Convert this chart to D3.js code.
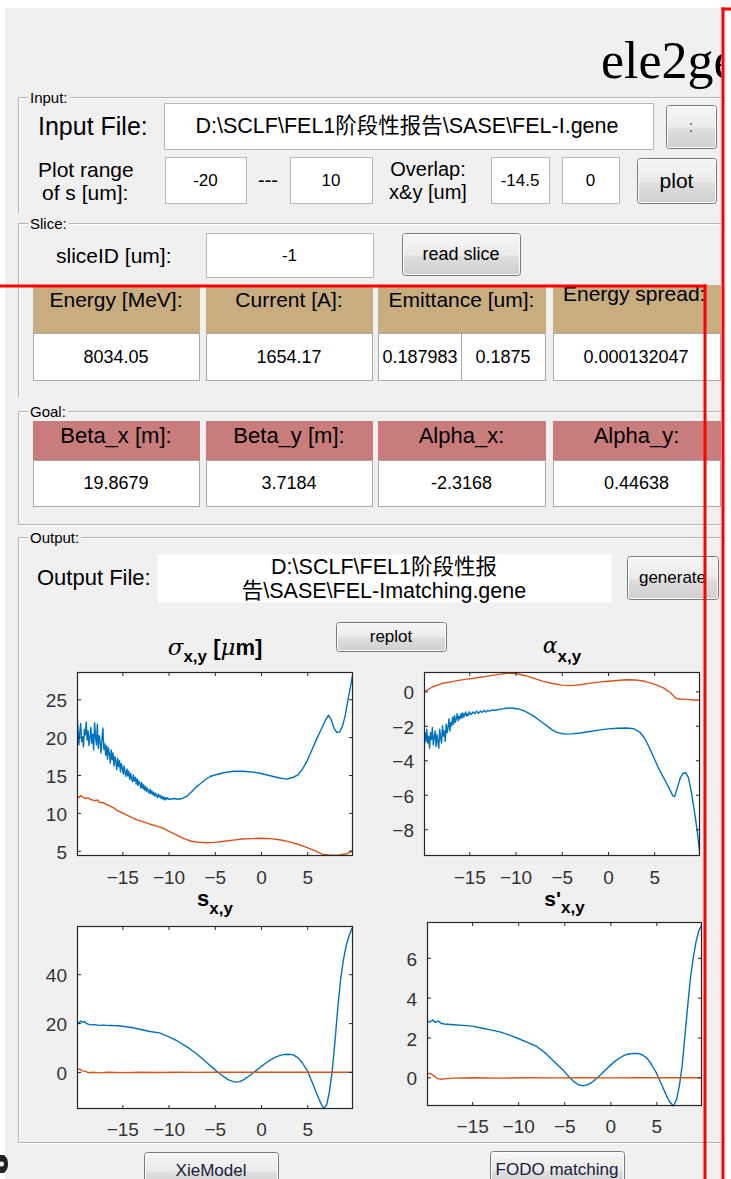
<!DOCTYPE html>
<html><head><meta charset="utf-8">
<script src="https://cdn.jsdelivr.net/npm/d3@7/dist/d3.min.js"></script>
<style>body{margin:0;background:#fff;}svg{display:block;}</style>
</head><body>
<script>
// ---------------- DATA ----------------
const xTicks = [-15, -10, -5, 0, 5];
const sigmaTicks = [5, 10, 15, 20, 25];
const alphaTicks = [-8, -6, -4, -2, 0];
const sTicks = [0, 20, 40];
const spTicks = [0, 2, 4, 6];
const sRange = [-19.9, 9.95];

const inputPath = "D:\\SCLF\\FEL1阶段性报告\\SASE\\FEL-I.gene";
const outputPathLines = ["D:\\SCLF\\FEL1阶段性报", "告\\SASE\\FEL-Imatching.gene"];
const plotRange = ["-20", "10"];
const overlap = ["-14.5", "0"];
const sliceId = "-1";
const sliceHeaders = ["Energy [MeV]:", "Current [A]:", "Emittance [um]:", "Energy spread:"];
const sliceValues = ["8034.05", "1654.17", "0.187983", "0.1875", "0.000132047"];
const goalHeaders = ["Beta_x [m]:", "Beta_y [m]:", "Alpha_x:", "Alpha_y:"];
const goalValues = ["19.8679", "3.7184", "-2.3168", "0.44638"];

// sigma_x (blue) and sigma_y (orange) [um]
const sigmaX = [[-19.9,22.9],[-19.8,21.2],[-19.7,19.0],[-19.6,20.6],[-19.5,21.8],[-19.4,19.4],[-19.3,20.1],[-19.2,18.7],[-19.1,21.0],[-19.0,20.3],
 [-18.9,22.0],[-18.8,19.6],[-18.7,20.8],[-18.6,18.9],[-18.5,19.9],[-18.4,21.3],[-18.3,19.2],[-18.2,20.4],[-18.1,18.3],[-18.0,21.9],
 [-17.9,20.1],[-17.8,19.0],[-17.7,21.7],[-17.6,18.5],[-17.5,20.2],[-17.4,19.3],[-17.3,17.9],[-17.2,19.8],[-17.1,21.2],[-17.0,18.4],
 [-16.9,19.1],[-16.8,17.6],[-16.7,18.9],[-16.6,17.1],[-16.5,18.6],[-16.4,17.8],[-16.3,16.6],[-16.2,18.3],[-16.1,17.0],[-16.0,17.9],
 [-15.9,16.2],[-15.8,17.4],[-15.7,16.8],[-15.6,15.7],[-15.5,17.2],[-15.4,16.1],[-15.3,16.9],[-15.2,15.4],[-15.1,16.5],[-15.0,15.9],
 [-14.9,15.1],[-14.8,16.2],[-14.7,15.3],[-14.6,14.8],[-14.5,15.8],[-14.4,14.9],[-14.3,15.5],[-14.2,14.4],[-14.1,15.2],[-14.0,14.6],
 [-13.9,14.1],[-13.8,15.0],[-13.7,14.2],[-13.6,14.7],[-13.5,13.8],[-13.4,14.5],[-13.3,13.6],[-13.2,14.2],[-13.1,13.9],[-13.0,13.3],
 [-12.9,14.0],[-12.8,13.2],[-12.7,13.7],[-12.6,13.0],[-12.5,13.5],[-12.4,12.8],[-12.3,13.3],[-12.2,12.9],[-12.1,12.6],[-12.0,13.1],
 [-11.9,12.5],[-11.8,12.9],[-11.7,12.4],[-11.6,12.7],[-11.5,12.2],[-11.4,12.6],[-11.3,12.3],[-11.2,12.0],[-11.1,12.5],[-11.0,12.1],
 [-10.9,12.3],[-10.8,11.9],[-10.7,12.2],[-10.6,11.8],[-10.5,12.1],[-10.4,11.7],[-10.3,12.0],[-10.2,11.8],[-10.1,12.0],[-10.0,11.8],
 [-9.8,11.8],[-9.4,11.9],[-9.0,11.8],[-8.5,11.9],[-8.0,12.2],[-7.5,12.8],[-7.0,13.4],[-6.5,13.9],[-6.0,14.4],[-5.5,14.8],[-5.0,15.0],
 [-4.0,15.3],[-3.0,15.5],[-2.0,15.5],[-1.0,15.4],[0.0,15.2],[1.0,14.9],[2.0,14.6],[2.8,14.45],[3.5,14.7],[4.0,15.0],[4.5,15.8],
 [5.0,16.9],[5.5,18.3],[6.0,19.7],[6.5,21.0],[7.0,22.3],[7.3,22.9],[7.6,22.3],[7.9,21.2],[8.2,20.6],[8.5,20.7],[8.8,21.4],[9.1,22.8],
 [9.4,24.9],[9.7,26.8],[9.95,28.5]];
const sigmaY = [[-19.9,12.3],[-19.7,12.0],[-19.5,12.3],[-19.3,12.1],[-19.0,11.9],[-18.7,12.0],[-18.5,11.8],[-18.2,11.7],[-18.0,11.6],[-17.7,11.7],[-17.5,11.4],[-17.0,11.3],[-16.5,11.0],[-16.0,10.7],
 [-15.5,10.3],[-15.0,10.0],[-14.5,9.7],[-14.0,9.4],[-13.5,9.1],[-13.0,8.9],[-12.5,8.7],[-12.0,8.5],[-11.5,8.35],[-11.0,8.15],[-10.5,7.9],
 [-10.0,7.6],[-9.5,7.3],[-9.0,7.0],[-8.5,6.7],[-8.0,6.45],[-7.5,6.25],[-7.0,6.15],[-6.5,6.1],[-6.0,6.05],[-5.0,6.1],[-4.0,6.25],[-3.0,6.4],
 [-2.0,6.55],[-1.0,6.6],[0.0,6.65],[1.0,6.6],[2.0,6.45],[3.0,6.2],[4.0,5.85],[5.0,5.4],[6.0,4.9],[6.7,4.5],[7.5,4.4],[8.5,4.45],
 [9.3,4.6],[9.7,4.85],[9.95,5.1]];

// alpha_x (blue) and alpha_y (orange)
const alphaX = [[-19.9,-3.8],[-19.8,-2.4],[-19.7,-2.9],[-19.6,-2.2],[-19.5,-3.0],[-19.4,-2.6],[-19.3,-3.3],[-19.2,-2.4],[-19.1,-2.8],[-19.0,-2.1],
 [-18.9,-3.1],[-18.8,-2.7],[-18.7,-2.3],[-18.6,-3.2],[-18.5,-2.5],[-18.4,-2.9],[-18.3,-3.3],[-18.2,-2.2],[-18.1,-2.7],[-18.0,-3.0],
 [-17.9,-2.0],[-17.8,-2.6],[-17.7,-2.3],[-17.6,-2.9],[-17.5,-1.9],[-17.4,-2.4],[-17.3,-2.1],[-17.2,-1.6],[-17.1,-2.3],[-17.0,-1.8],
 [-16.9,-2.0],[-16.8,-1.5],[-16.7,-1.9],[-16.6,-1.4],[-16.5,-1.8],[-16.4,-1.6],[-16.3,-1.3],[-16.2,-1.7],[-16.1,-1.45],[-16.0,-1.6],
 [-15.9,-1.3],[-15.8,-1.55],[-15.7,-1.25],[-15.6,-1.5],[-15.5,-1.35],[-15.4,-1.2],[-15.3,-1.45],[-15.2,-1.3],[-15.1,-1.4],[-15.0,-1.2],
 [-14.8,-1.35],[-14.6,-1.2],[-14.4,-1.3],[-14.2,-1.15],[-14.0,-1.28],[-13.8,-1.15],[-13.6,-1.22],[-13.4,-1.1],[-13.2,-1.2],[-13.0,-1.1],
 [-12.8,-1.15],[-12.5,-1.08],[-12.2,-1.1],[-11.8,-1.05],[-11.4,-1.02],[-11.0,-0.98],[-10.5,-0.97],[-10.0,-1.0],[-9.5,-1.05],[-9.0,-1.15],
 [-8.5,-1.3],[-8.0,-1.45],[-7.5,-1.65],[-7.0,-1.85],[-6.5,-2.05],[-6.0,-2.25],[-5.5,-2.38],[-5.0,-2.45],[-4.5,-2.48],[-4.0,-2.47],
 [-3.0,-2.42],[-2.0,-2.33],[-1.0,-2.25],[0.0,-2.18],[1.0,-2.14],[2.0,-2.13],[2.8,-2.17],[3.5,-2.4],[4.0,-2.75],[4.5,-3.3],[5.0,-3.9],
 [5.5,-4.5],[6.0,-5.0],[6.5,-5.5],[7.0,-6.05],[7.2,-6.1],[7.5,-5.6],[7.8,-5.05],[8.1,-4.75],[8.4,-4.72],[8.7,-5.0],[9.0,-5.8],
 [9.3,-6.8],[9.6,-7.9],[9.8,-8.8],[9.95,-9.5]];
const alphaY = [[-19.9,-0.05],[-19.0,0.25],[-18.0,0.45],[-17.0,0.55],[-16.0,0.65],[-15.0,0.72],[-14.0,0.8],[-13.0,0.88],[-12.0,0.97],
 [-11.0,1.05],[-10.0,1.03],[-9.0,0.92],[-8.0,0.75],[-7.0,0.58],[-6.0,0.45],[-5.0,0.36],[-4.0,0.33],[-3.0,0.38],[-2.0,0.46],[-1.0,0.53],
 [0.0,0.58],[1.0,0.63],[2.0,0.67],[3.0,0.66],[4.0,0.58],[5.0,0.42],[6.0,0.2],[6.8,-0.1],[7.3,-0.38],[7.6,-0.45],[8.5,-0.47],
 [9.3,-0.5],[9.95,-0.52]];

// s_x (blue) and s_y (orange)
const sX = [[-19.9,20.6],[-19.7,20.0],[-19.5,20.9],[-19.3,20.3],[-19.1,20.7],[-18.9,19.9],[-18.7,19.6],[-18.4,19.3],[-18.0,19.4],[-17.5,19.1],[-17.0,19.2],[-16.5,19.0],
 [-16.0,19.0],[-15.5,18.9],[-15.0,18.7],[-14.0,18.2],[-13.0,17.4],[-12.0,16.6],[-11.0,16.0],[-10.0,14.5],[-9.0,12.6],[-8.0,10.3],
 [-7.0,7.6],[-6.0,4.3],[-5.0,1.0],[-4.5,-0.6],[-4.0,-2.0],[-3.5,-3.2],[-3.0,-3.9],[-2.7,-4.1],[-2.3,-3.9],[-2.0,-3.4],[-1.5,-2.2],
 [-1.0,-0.8],[-0.5,0.7],[0.0,2.2],[0.5,3.6],[1.0,4.9],[1.5,6.0],[2.0,6.7],[2.5,7.2],[3.0,7.3],[3.5,7.0],[4.0,5.8],[4.5,3.6],
 [5.0,0.6],[5.5,-3.9],[6.0,-8.6],[6.4,-12.2],[6.75,-14.9],[7.1,-13.5],[7.4,-8.0],[7.7,0.5],[8.0,12.5],[8.3,26.0],[8.6,37.5],
 [8.9,45.5],[9.2,51.5],[9.5,55.5],[9.8,58.3],[9.95,59.3]];
const sY = [[-19.9,0.8],[-19.6,1.2],[-19.3,0.5],[-19.0,0.3],[-18.6,-0.3],[-18.2,-0.1],[-17.5,-0.35],[-16.5,-0.1],[-15.0,-0.25],
 [-13.0,-0.05],[-11.0,-0.2],[-9.0,-0.05],[-7.0,-0.15],[-5.0,-0.05],[-3.0,-0.1],[0.0,-0.05],[3.0,-0.1],[6.0,-0.05],[9.95,-0.1]];

// s'_x (blue) and s'_y (orange)
const spX = [[-19.9,2.82],[-19.6,2.78],[-19.3,2.88],[-19.0,2.76],[-18.7,2.82],[-18.3,2.7],[-18.0,2.68],[-17.0,2.64],[-16.0,2.61],
 [-15.0,2.57],[-14.0,2.48],[-13.0,2.38],[-12.0,2.28],[-11.0,2.13],[-10.0,1.95],[-9.0,1.76],[-8.0,1.55],[-7.0,1.2],[-6.0,0.75],
 [-5.0,0.3],[-4.5,0.03],[-4.0,-0.2],[-3.5,-0.36],[-3.0,-0.43],[-2.5,-0.38],[-2.0,-0.25],[-1.5,-0.06],[-1.0,0.15],[-0.5,0.38],
 [0.0,0.6],[0.5,0.8],[1.0,0.97],[1.5,1.1],[2.0,1.17],[2.5,1.2],[3.0,1.2],[3.5,1.12],[4.0,0.95],[4.5,0.62],[5.0,0.22],[5.5,-0.3],
 [6.0,-0.82],[6.4,-1.2],[6.85,-1.44],[7.2,-1.1],[7.5,-0.4],[7.8,0.6],[8.1,2.1],[8.4,3.6],[8.7,5.0],[9.0,6.0],[9.3,6.8],[9.6,7.35],[9.95,7.7]];
const spY = [[-19.9,0.2],[-19.5,0.18],[-19.2,0.1],[-18.8,-0.05],[-18.4,-0.1],[-18.0,-0.08],[-17.0,-0.04],[-15.0,-0.02],[-12.0,-0.04],
 [-9.0,-0.02],[-6.0,-0.03],[-3.0,-0.02],[0.0,-0.03],[3.0,-0.02],[6.0,-0.02],[9.95,-0.02]];

// ---------------- DRAWING ----------------
const W = 731, H = 1179;
const FONT = "'Liberation Sans', Arial, 'Noto Sans CJK SC', sans-serif";
const BLUE = "#0072BD", ORANGE = "#D95319";
const svg = d3.select("body").append("svg").attr("width", W).attr("height", H);
const defs = svg.append("defs");
const grad = defs.append("linearGradient").attr("id", "btn").attr("x1", 0).attr("y1", 0).attr("x2", 0).attr("y2", 1);
grad.append("stop").attr("offset", "0%").attr("stop-color", "#f6f6f6");
grad.append("stop").attr("offset", "50%").attr("stop-color", "#ebebeb");
grad.append("stop").attr("offset", "55%").attr("stop-color", "#dedede");
grad.append("stop").attr("offset", "100%").attr("stop-color", "#cfcfcf");
defs.append("clipPath").attr("id", "guiclip").append("rect").attr("x", 5).attr("y", 8).attr("width", 716.5).attr("height", H - 8);

svg.append("rect").attr("width", W).attr("height", H).attr("fill", "#ffffff");
svg.append("rect").attr("x", 5).attr("y", 8).attr("width", 716.5).attr("height", H - 8).attr("fill", "#f0f0f0");
const gui = svg.append("g").attr("clip-path", "url(#guiclip)");

function txt(g, x, y, s, size, o = {}) {
  return g.append("text").attr("x", x).attr("y", y).text(s)
    .attr("font-family", o.family || FONT).attr("font-size", size)
    .attr("text-anchor", o.anchor || "start").attr("fill", o.fill || "#000")
    .attr("font-weight", o.weight || "normal").attr("dominant-baseline", o.base || "central");
}
function box(g, x0, y0, x1, y1, o = {}) {
  return g.append("rect").attr("x", x0 + 0.5).attr("y", y0 + 0.5).attr("width", x1 - x0).attr("height", y1 - y0)
    .attr("fill", o.fill || "#fff").attr("stroke", o.stroke === undefined ? "#b9b9b9" : o.stroke).attr("stroke-width", 1);
}
function button(g, x0, y0, x1, y1, label, size, fill) {
  g.append("rect").attr("x", x0 + 0.5).attr("y", y0 + 0.5).attr("width", x1 - x0).attr("height", y1 - y0)
    .attr("rx", 3).attr("fill", "url(#btn)").attr("stroke", "#7a7a7a");
  g.append("rect").attr("x", x0 + 1.5).attr("y", y0 + 1.5).attr("width", x1 - x0 - 2).attr("height", y1 - y0 - 2)
    .attr("rx", 2).attr("fill", "none").attr("stroke", "#fbfbfb").attr("stroke-width", 1);
  txt(g, (x0 + x1) / 2, (y0 + y1) / 2, label, size, { anchor: "middle", fill: fill || "#000" });
}
function panel(g, yTop, yBot, label, bottomLine) {
  g.append("line").attr("x1", 18).attr("x2", 730).attr("y1", yTop + 0.5).attr("y2", yTop + 0.5).attr("stroke", "#b4b4b4");
  g.append("line").attr("x1", 19).attr("x2", 730).attr("y1", yTop + 1.5).attr("y2", yTop + 1.5).attr("stroke", "#ffffff");
  g.append("line").attr("x1", 18.5).attr("x2", 18.5).attr("y1", yTop).attr("y2", yBot).attr("stroke", "#b4b4b4");
  g.append("line").attr("x1", 19.5).attr("x2", 19.5).attr("y1", yTop + 1).attr("y2", yBot).attr("stroke", "#ffffff");
  if (bottomLine) {
    g.append("line").attr("x1", 18).attr("x2", 730).attr("y1", yBot + 0.5).attr("y2", yBot + 0.5).attr("stroke", "#b4b4b4");
    g.append("line").attr("x1", 18).attr("x2", 730).attr("y1", yBot + 1.5).attr("y2", yBot + 1.5).attr("stroke", "#ffffff");
  }
  const t = txt(g, 30, yTop, label, 15);
  const w = t.node().getComputedTextLength();
  g.insert("rect", () => t.node()).attr("x", 28).attr("y", yTop - 8).attr("width", w + 4).attr("height", 14).attr("fill", "#f0f0f0");
}

// Title
txt(gui, 601, 78, "ele2ge", 52, { family: "'Liberation Serif', 'Times New Roman', serif", base: "alphabetic" });

// Input panel
panel(gui, 97, 213, "Input:");
txt(gui, 38, 126, "Input File:", 25);
box(gui, 164, 103, 653, 149);
txt(gui, 407, 126, inputPath, 21.5, { anchor: "middle" });
button(gui, 666, 105, 716, 148, ":", 16, "#555");
txt(gui, 38, 169, "Plot range", 21);
txt(gui, 42, 192, "of s [um]:", 21);
box(gui, 165, 157, 246, 203); txt(gui, 205.5, 180, plotRange[0], 17, { anchor: "middle" });
txt(gui, 268, 180, "---", 20, { anchor: "middle" });
box(gui, 290, 157, 372, 203); txt(gui, 331, 180, plotRange[1], 17, { anchor: "middle" });
txt(gui, 428, 169, "Overlap:", 20, { anchor: "middle" });
txt(gui, 428, 192, "x&y [um]", 20, { anchor: "middle" });
box(gui, 491, 157, 549, 203); txt(gui, 520, 180, overlap[0], 17, { anchor: "middle" });
box(gui, 562, 157, 619, 203); txt(gui, 590.5, 180, overlap[1], 17, { anchor: "middle" });
button(gui, 637, 158, 716, 203, "plot", 21);

// Slice panel
panel(gui, 223, 397, "Slice:");
txt(gui, 56, 255, "sliceID [um]:", 21);
box(gui, 206, 233, 373, 277); txt(gui, 289.5, 255, sliceId, 17, { anchor: "middle" });
button(gui, 402, 233, 520, 275, "read slice", 18);

const cellX = [[33, 199], [206, 372], [378, 545], [553, 720]];
cellX.forEach((c, i) => {
  box(gui, c[0], 285, c[1], 333, { fill: "#c8ad80", stroke: "#c8ad80" });
  box(gui, c[0], 333, c[1], 380, { stroke: "#a9a9a9" });
  const hy = i === 3 ? 293 : 299;
  if (i === 3) txt(gui, 563, hy, sliceHeaders[i], 21);
  else txt(gui, (c[0] + c[1]) / 2, hy, sliceHeaders[i], 21, { anchor: "middle" });
});
gui.append("line").attr("x1", 461.5).attr("x2", 461.5).attr("y1", 333).attr("y2", 380).attr("stroke", "#a9a9a9");
txt(gui, 116, 357, sliceValues[0], 18, { anchor: "middle" });
txt(gui, 289, 357, sliceValues[1], 18, { anchor: "middle" });
txt(gui, 420, 357, sliceValues[2], 18, { anchor: "middle" });
txt(gui, 503, 357, sliceValues[3], 18, { anchor: "middle" });
txt(gui, 636, 357, sliceValues[4], 18, { anchor: "middle" });

// Goal panel
panel(gui, 411, 524, "Goal:", true);
cellX.forEach((c, i) => {
  box(gui, c[0], 421, c[1], 460, { fill: "#c87d7c", stroke: "#c87d7c" });
  box(gui, c[0], 460, c[1], 506, { stroke: "#a9a9a9" });
  txt(gui, (c[0] + c[1]) / 2, 435, goalHeaders[i], 22, { anchor: "middle" });
  txt(gui, (c[0] + c[1]) / 2, 483, goalValues[i], 18, { anchor: "middle" });
});

// Output panel
panel(gui, 537, 1142, "Output:", true);
txt(gui, 37, 577, "Output File:", 22);
box(gui, 157, 554, 611, 602, { stroke: "none" });
txt(gui, 384, 567, outputPathLines[0], 21.5, { anchor: "middle" });
txt(gui, 384, 591, outputPathLines[1], 21.5, { anchor: "middle" });
button(gui, 627, 556, 718, 599, "generate", 17);
button(gui, 336, 622, 446, 651, "replot", 17);
button(gui, 144, 1152, 278, 1188, "XieModel", 17, "#1a1a3a");
button(gui, 490, 1151, 624, 1188, "FODO matching", 17, "#1a1a3a");

// ---------------- PLOTS ----------------
let clipId = 0;
function drawPlot(cfg) {
  const g = gui.append("g");
  const x = d3.scaleLinear().domain(sRange).range([cfg.x0, cfg.x1]);
  const y = d3.scaleLinear().domain(cfg.yDomain).range([cfg.y1, cfg.y0]);
  g.append("rect").attr("x", cfg.x0).attr("y", cfg.y0).attr("width", cfg.x1 - cfg.x0).attr("height", cfg.y1 - cfg.y0).attr("fill", "#fff");
  const id = "pc" + (clipId++);
  defs.append("clipPath").attr("id", id).append("rect").attr("x", cfg.x0).attr("y", cfg.y0 - 1).attr("width", cfg.x1 - cfg.x0).attr("height", cfg.y1 - cfg.y0 + 2);
  const line = d3.line().x(d => x(d[0])).y(d => y(d[1]));
  const lg = g.append("g").attr("clip-path", `url(#${id})`);
  cfg.series.forEach(s => {
    lg.append("path").datum(s.data).attr("d", line).attr("fill", "none").attr("stroke", s.color)
      .attr("stroke-width", 1.4).attr("stroke-linejoin", "round");
  });
  const AX = "#333333";
  const styleAxis = (a, show) => {
    a.select(".domain").remove();
    a.selectAll(".tick line").attr("stroke", "#262626");
    a.selectAll(".tick text").attr("fill", AX).attr("font-family", FONT).attr("font-size", 19);
    if (!show) a.selectAll(".tick text").remove();
  };
  const bx = g.append("g").attr("transform", `translate(0,${cfg.y1})`)
    .call(d3.axisBottom(x).tickValues(xTicks).tickSizeInner(-4).tickSizeOuter(0).tickPadding(cfg.xPad));
  styleAxis(bx, true);
  const tx = g.append("g").attr("transform", `translate(0,${cfg.y0})`)
    .call(d3.axisTop(x).tickValues(xTicks).tickSizeInner(-4).tickSizeOuter(0));
  styleAxis(tx, false);
  const ly = g.append("g").attr("transform", `translate(${cfg.x0},0)`)
    .call(d3.axisLeft(y).tickValues(cfg.yTicks).tickSizeInner(-4).tickSizeOuter(0).tickPadding(10));
  styleAxis(ly, true);
  ly.selectAll(".tick text").attr("dy", "0.4em");
  const ry = g.append("g").attr("transform", `translate(${cfg.x1},0)`)
    .call(d3.axisRight(y).tickValues(cfg.yTicks).tickSizeInner(-4).tickSizeOuter(0));
  styleAxis(ry, false);
  g.append("rect").attr("x", cfg.x0 + 0.5).attr("y", cfg.y0 + 0.5).attr("width", cfg.x1 - cfg.x0 - 1).attr("height", cfg.y1 - cfg.y0 - 1)
    .attr("fill", "none").attr("stroke", "#262626").attr("stroke-width", 1.2);
  // title
  const t = g.append("text").attr("x", (cfg.x0 + cfg.x1) / 2).attr("y", cfg.titleY).attr("text-anchor", "middle")
    .attr("font-family", FONT).attr("font-weight", "bold").attr("font-size", 22).attr("fill", "#000");
  cfg.title.forEach(p => {
    const sp = t.append("tspan").text(p.t);
    if (p.dy) sp.attr("dy", p.dy);
    if (p.size) sp.attr("font-size", p.size);
    if (p.italic) sp.attr("font-style", "italic").attr("font-weight", "normal").attr("font-family", "'DejaVu Serif', serif");
  });
}

drawPlot({ x0: 77, x1: 353, y0: 672, y1: 856, yDomain: [4.3, 28.6], yTicks: sigmaTicks, xPad: 15, titleY: 655,
  series: [{ data: sigmaX, color: BLUE }, { data: sigmaY, color: ORANGE }],
  title: [{ t: "σ", italic: true, size: 23 }, { t: "x,y", size: 17, dy: 7 }, { t: " [", dy: -7 }, { t: "μ", italic: true, size: 23 }, { t: "m]" }] });
drawPlot({ x0: 424, x1: 700, y0: 672, y1: 856, yDomain: [-9.55, 1.12], yTicks: alphaTicks, xPad: 15, titleY: 653,
  series: [{ data: alphaX, color: BLUE }, { data: alphaY, color: ORANGE }],
  title: [{ t: "α", italic: true, size: 22 }, { t: "x,y", size: 17, dy: 9 }] });
drawPlot({ x0: 77, x1: 353, y0: 926, y1: 1109, yDomain: [-15.1, 59.7], yTicks: sTicks, xPad: 14, titleY: 906,
  series: [{ data: sX, color: BLUE }, { data: sY, color: ORANGE }],
  title: [{ t: "s", size: 22 }, { t: "x,y", size: 17, dy: 8 }] });
drawPlot({ x0: 427, x1: 702, y0: 922, y1: 1106, yDomain: [-1.44, 7.8], yTicks: spTicks, xPad: 14, titleY: 906,
  series: [{ data: spX, color: BLUE }, { data: spY, color: ORANGE }],
  title: [{ t: "s'", size: 21 }, { t: "x,y", size: 17, dy: 7 }] });

// small dark icon fragment at bottom-left
svg.append("path").attr("d", "M0,1155 L4,1155 Q8,1158 8,1164 Q8,1170 4,1173 L0,1173 Z").attr("fill", "#222");
svg.append("circle").attr("cx", 1.5).attr("cy", 1164).attr("r", 2.5).attr("fill", "#f0f0f0");

// red annotation rectangles
svg.append("rect").attr("x", 0).attr("y", 284.5).attr("width", 706.5).attr("height", 3).attr("fill", "#f00");
svg.append("rect").attr("x", 703.5).attr("y", 284.5).attr("width", 3).attr("height", H - 284.5).attr("fill", "#f00");
svg.append("rect").attr("x", 721.5).attr("y", 7.5).attr("width", 3).attr("height", H - 7.5).attr("fill", "#f00");
svg.append("rect").attr("x", 721.5).attr("y", 7.5).attr("width", W - 721.5).attr("height", 3).attr("fill", "#f00");
</script>
</body></html>
